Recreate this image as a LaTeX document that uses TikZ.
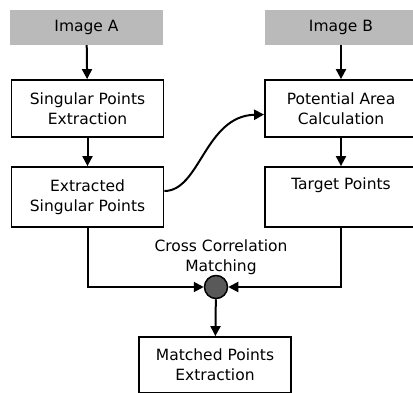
\documentclass[tikz,border=0pt]{standalone}
\usepackage{fontspec}
\setmainfont{DejaVu Sans}
\usetikzlibrary{arrows.meta}
\begin{document}
\begin{tikzpicture}[x=1pt,y=-1pt,
  every node/.style={font=\fontsize{15.5}{20}\selectfont, align=center, inner sep=0pt},
  src/.style={fill=black!27, minimum width=153, minimum height=35},
  proc/.style={draw, line width=1.8pt, fill=white, minimum width=152},
  junction/.style={circle, draw, line width=1.5pt, fill=black!65, minimum size=23},
  flow/.style={line width=2pt, -{Triangle[length=10pt,width=10pt]}}
]
\clip (0,0) rectangle (413,392);
\useasboundingbox (0,0) rectangle (413,392);

% inputs
\node[src] (imgA) at (86.5,27.5) {Image A};
\node[src] (imgB) at (341,27.5) {Image B};

% left column
\node[proc, minimum height=57] (spe) at (87.5,108.5) {Singular Points\\Extraction};
\node[proc, minimum height=60] (esp) at (87.5,197) {Extracted\\Singular Points};

% right column
\node[proc, minimum height=57] (pac) at (341,108.5) {Potential Area\\Calculation};
\node[proc, minimum height=60] (tp) at (341,197) {Target Points\\\strut};

% matching
\node[junction] (cc) at (216,287) {};
\node (ccl) at (221,257) {Cross Correlation\\Matching};
\node[proc, minimum height=56] (mpe) at (215,365) {Matched Points\\Extraction};

% connectors
\draw[flow] (imgA) -- (spe);
\draw[flow] (spe) -- (esp);
\draw[flow] (imgB) -- (pac);
\draw[flow] (pac) -- (tp);
\draw[flow] ([yshift=6pt]esp.east) .. controls (200,191) and (205,116) .. ([yshift=-6pt]pac.west);
\draw[flow] (esp.south) |- (cc.west);
\draw[flow] (tp.south) |- (cc.east);
\draw[flow] (cc) -- (mpe);
\end{tikzpicture}
\end{document}
